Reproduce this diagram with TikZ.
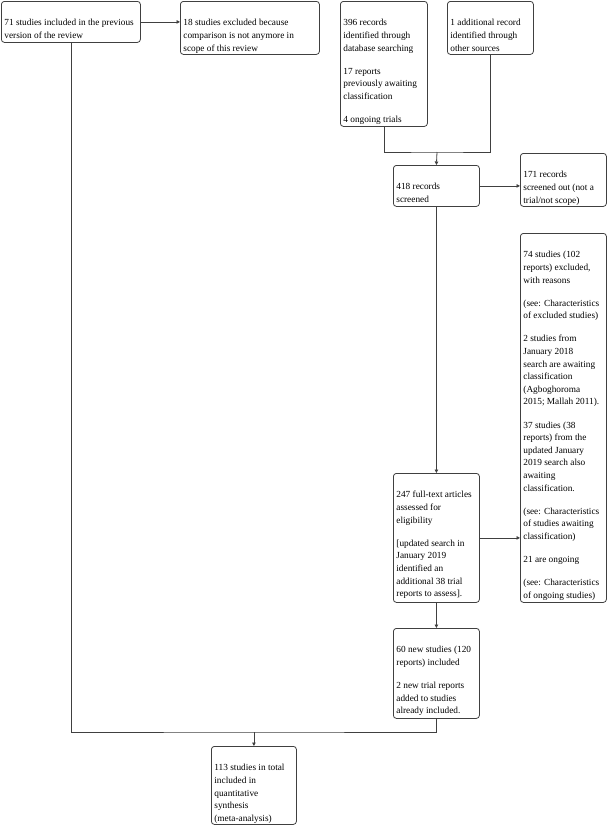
\documentclass[tikz,border=0pt]{standalone}
\usepackage{fontspec}
\setmainfont{Liberation Serif}
\usetikzlibrary{positioning, arrows.meta, calc}

\newcommand{\boxtext}[3]{\parbox[t][#2pt][t]{#1pt}{\vspace*{15.7pt}\raggedright\strut\setlength{\parskip}{10.5pt}#3}}

\tikzset{
    box/.style={draw=black!75, line width=0.8pt, rounded corners=3pt,
        anchor=north west, inner xsep=3pt, inner ysep=0pt},
    flow/.style={draw=black!75, line width=0.8pt,
        -{Triangle[length=3.5pt,width=3.5pt]}},
    link/.style={draw=black!75, line width=0.8pt}
}

\begin{document}
\begin{tikzpicture}[x=1pt, y=-1pt, font=\fontsize{9.3}{12.6}\selectfont]
\useasboundingbox (0,0) rectangle (608,825);

% Previous version of the review
\node[box](prev) at (1,1){\boxtext{133}{41}{71 studies included in the previous\\version of the review}};
\node[box](dropped) at (180,1){\boxtext{133}{53}{18 studies excluded because\\comparison is not anymore in\\scope of this review}};

% Searches
\node[box](dbase) at (340,1){\boxtext{81}{125}{396 records\\identified through\\database searching\par 17 reports\\previously awaiting\\classification\par 4 ongoing trials}};
\node[box](other) at (447,1){\boxtext{80}{53}{1 additional record\\identified through\\other sources}};

% Screening
\node[box](screened) at (393,165){\boxtext{80}{41}{418 records\\screened}};
\node[box](screenout) at (520,153){\boxtext{80}{53}{171 records\\screened out (not a\\trial/not scope)}};

% Eligibility
\node[box](fulltext) at (393,473){\boxtext{80}{129}{247 full-text articles\\assessed for\\eligibility\par [updated search in\\January 2019\\identified an\\additional 38 trial\\reports to assess].}};
\node[box](excluded) at (520,233){\boxtext{80}{369}{74 studies (102\\reports) excluded,\\with reasons\par (see: Characteristics\\of excluded studies)\par 2 studies from\\January 2018\\search are awaiting\\classification\\(Agboghoroma\\2015; Mallah 2011).\par 37 studies (38\\reports) from the\\updated January\\2019 search also\\awaiting\\classification.\par (see: Characteristics\\of studies awaiting\\classification)\par 21 are ongoing\par (see: Characteristics\\of ongoing studies)}};

% Included
\node[box](newstud) at (393,628){\boxtext{80}{90}{60 new studies (120\\reports) included\par 2 new trial reports\\added to studies\\already included.}};
\node[box](total) at (211,746){\boxtext{79}{78}{113 studies in total\\included in\\quantitative\\synthesis\\(meta-analysis)}};

\coordinate (join) at (437,152);
\coordinate (merge) at ($(total.north)+(0,-14)$);

\draw[flow] (prev.east) -- (prev.east -| dropped.west);
\draw[link] (dbase.south) |- (join) -| (other.south);
\draw[flow] (join) -- (screened.north);
\draw[flow] (screened.east) -- (screened.east -| screenout.west);
\draw[flow] (screened.south) -- (fulltext.north);
\draw[flow] (fulltext.east) -- (fulltext.east -| excluded.west);
\draw[flow] (fulltext.south) -- (newstud.north);
\draw[link] (prev.south) |- (merge) -| (newstud.south);
\draw[flow] (merge) -- (total.north);
\end{tikzpicture}
\end{document}
